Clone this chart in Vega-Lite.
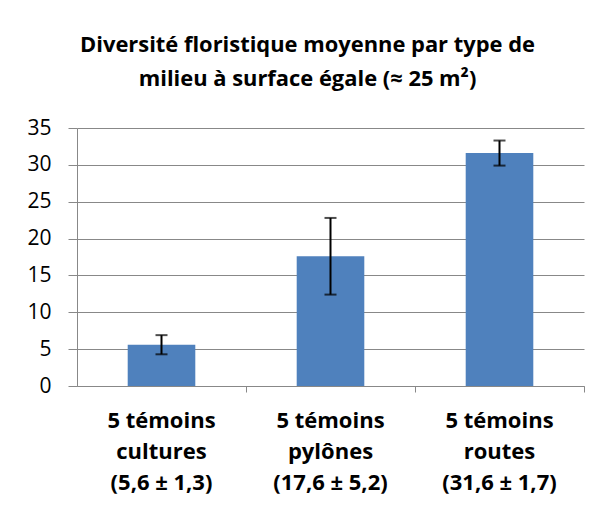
{
  "$schema": "https://vega.github.io/schema/vega-lite/v6.json",
  "width": 507,
  "height": 258,
  "autosize": {"type": "none"},
  "padding": {"left": 77, "top": 128, "right": 25, "bottom": 125},
  "background": "white",
  "title": {
    "text": ["Diversité floristique moyenne par type de", "milieu à surface égale (≈ 25 m²)"],
    "font": "Open Sans",
    "fontSize": 21.9,
    "fontWeight": "bold",
    "color": "#000000",
    "lineHeight": 34,
    "offset": 26,
    "dx": -23,
    "anchor": "middle"
  },
  "data": {
    "values": [
      {"cat": "5 témoins|cultures|(5,6 ± 1,3)", "mean": 5.6, "lo": 4.3, "hi": 6.9},
      {"cat": "5 témoins|pylônes|(17,6 ± 5,2)", "mean": 17.6, "lo": 12.4, "hi": 22.8},
      {"cat": "5 témoins|routes|(31,6 ± 1,7)", "mean": 31.6, "lo": 29.9, "hi": 33.3}
    ]
  },
  "encoding": {
    "x": {
      "field": "cat",
      "type": "nominal",
      "sort": null,
      "title": null,
      "scale": {"paddingInner": 0, "paddingOuter": 0},
      "axis": {
        "labelAngle": 0,
        "labelExpr": "split(datum.label, '|')",
        "bandPosition": 1,
        "labelOffset": 0,
        "labelFont": "Open Sans",
        "labelFontSize": 22,
        "labelFontWeight": "bold",
        "labelColor": "#000000",
        "labelLineHeight": 31,
        "labelPadding": 18,
        "labelBaseline": "top",
        "domainColor": "#888888",
        "tickColor": "#888888",
        "tickSize": 6,
        "grid": false
      }
    }
  },
  "layer": [
    {
      "mark": {"type": "bar", "color": "#4F81BD", "width": {"band": 0.4}},
      "encoding": {
        "y": {
          "field": "mean",
          "type": "quantitative",
          "title": null,
          "scale": {"domain": [0, 35], "nice": false},
          "axis": {
            "values": [0, 5, 10, 15, 20, 25, 30, 35],
            "labelOverlap": false,
            "labelFont": "Open Sans",
            "labelFontSize": 21,
            "labelColor": "#000000",
            "labelPadding": 17,
            "tickSize": 9,
            "tickColor": "#888888",
            "domainColor": "#888888",
            "gridColor": "#888888",
            "gridWidth": 1
          }
        }
      }
    },
    {
      "mark": {"type": "rule", "color": "#000000", "strokeWidth": 2},
      "encoding": {
        "y": {"field": "lo", "type": "quantitative", "axis": {"values": [0, 5, 10, 15, 20, 25, 30, 35], "labelOverlap": false}},
        "y2": {"field": "hi"}
      }
    },
    {
      "mark": {"type": "tick", "color": "#000000", "thickness": 2, "size": 12},
      "encoding": {"y": {"field": "lo", "type": "quantitative", "axis": {"values": [0, 5, 10, 15, 20, 25, 30, 35], "labelOverlap": false}}}
    },
    {
      "mark": {"type": "tick", "color": "#000000", "thickness": 2, "size": 12},
      "encoding": {"y": {"field": "hi", "type": "quantitative", "axis": {"values": [0, 5, 10, 15, 20, 25, 30, 35], "labelOverlap": false}}}
    }
  ],
  "config": {"view": {"stroke": null}}
}
